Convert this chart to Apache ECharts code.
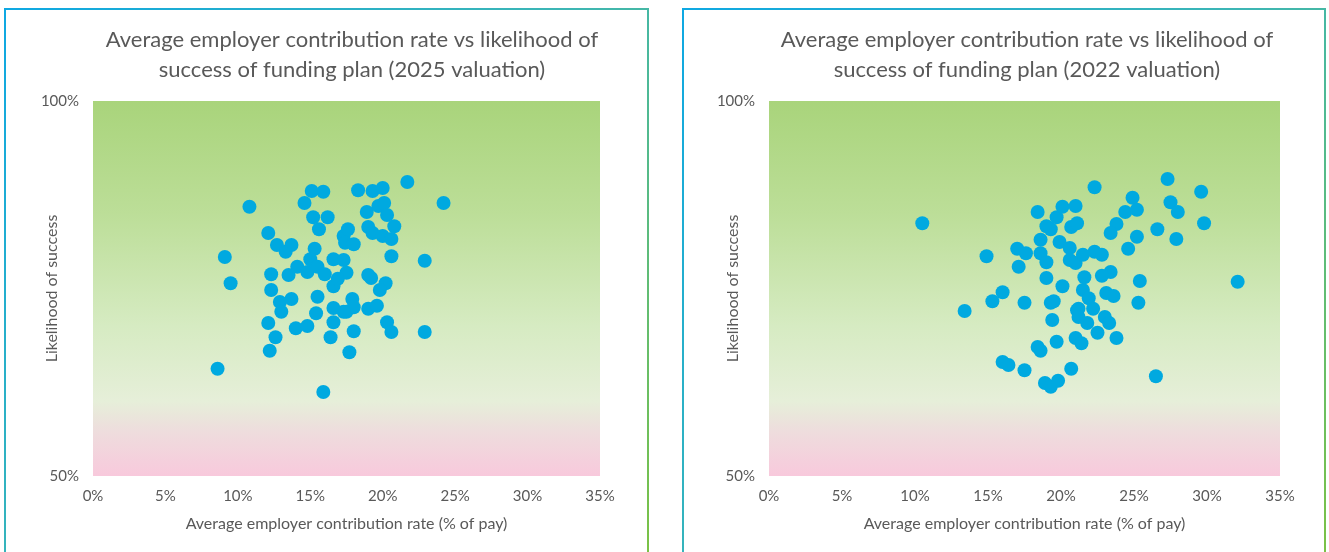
<!DOCTYPE html>
<html>
<head>
<meta charset="utf-8">
<script src="https://cdn.jsdelivr.net/npm/echarts@6/dist/echarts.min.js"></script>
<style>
  html, body { margin: 0; padding: 0; background: #fff; }
  #chart { width: 1329px; height: 552px; }
</style>
</head>
<body>
<div id="chart"></div>
<script>
// 2025 valuation: contribution rate (% of pay) and likelihood of success (%)
var rate2025 = [10.8, 9.1, 9.5, 8.6, 12.1, 12.7, 13.3, 13.7, 12.3, 13.5, 14.1, 14.8, 12.3, 12.9, 13.7, 13.0, 12.1, 12.6, 12.2, 14.0,
  14.8, 15.1, 15.9, 14.6, 15.2, 16.2, 15.6, 15.3, 15.0, 15.5, 16.0, 15.5, 15.4, 16.6, 17.3, 17.5, 17.3, 17.6, 17.4, 18.0,
  18.3, 19.3, 20.0, 21.7, 24.2, 18.9, 19.7, 20.1, 20.3, 19.0, 19.3, 20.0, 20.6, 20.8, 20.6, 22.9, 19.0, 20.2, 19.2, 16.6,
  16.9, 17.9, 17.5, 18.0, 17.3, 18.0, 17.7, 15.9, 16.6, 16.6, 16.4, 19.0, 19.6, 19.8, 20.3, 20.6, 22.9];
var success2025 = [85.9, 79.2, 75.7, 64.3, 82.4, 80.8, 79.9, 80.8, 76.9, 76.8, 77.9, 77.2, 74.8, 73.2, 73.6, 71.9, 70.4, 68.5, 66.7, 69.7,
  70.0, 88.0, 87.9, 86.4, 84.5, 84.5, 82.9, 80.3, 78.9, 77.9, 76.9, 73.9, 71.7, 78.9, 78.8, 77.1, 82.0, 82.9, 81.1, 80.9,
  88.1, 88.0, 88.4, 89.2, 86.4, 85.2, 86.0, 86.4, 84.8, 83.2, 82.4, 82.0, 81.6, 83.3, 79.3, 78.7, 76.8, 75.7, 76.4, 75.3,
  76.3, 73.6, 71.9, 72.5, 71.9, 69.3, 66.5, 61.2, 72.4, 70.5, 68.5, 72.3, 72.7, 74.8, 70.5, 69.2, 69.2];

// 2022 valuation
var rate2022 = [10.5, 14.9, 13.4, 15.3, 16.0, 17.0, 17.6, 17.1, 18.4, 18.6, 18.6, 19.0, 19.0, 19.3, 19.7, 20.1, 21.0, 20.7, 21.1, 19.9,
  20.6, 20.6, 21.0, 19.0, 20.1, 17.5, 19.3, 19.5, 19.4, 21.1, 18.4, 18.6, 19.7, 21.0, 16.0, 16.4, 17.5, 18.9, 19.3, 19.8,
  20.7, 22.3, 27.3, 29.6, 24.9, 25.2, 24.4, 27.5, 28.0, 23.8, 23.4, 25.2, 26.6, 27.9, 29.8, 24.6, 21.5, 22.3, 22.8, 23.4,
  22.8, 25.4, 32.1, 21.6, 21.5, 23.1, 23.6, 25.3, 21.9, 22.2, 21.2, 21.2, 21.8, 23.0, 23.3, 22.5, 23.8, 21.4, 26.5];
var success2022 = [83.7, 79.3, 72.0, 73.3, 74.5, 80.3, 79.7, 77.9, 85.2, 81.5, 79.7, 78.5, 83.3, 82.9, 84.5, 85.9, 86.0, 83.2, 83.7, 81.2,
  80.4, 78.8, 78.4, 76.4, 75.3, 73.1, 73.1, 73.3, 70.8, 72.1, 67.2, 66.7, 67.9, 68.4, 65.2, 64.8, 64.1, 62.4, 61.9, 62.7,
  64.3, 88.5, 89.6, 87.9, 87.1, 85.5, 85.2, 86.5, 85.2, 83.6, 82.4, 81.9, 82.9, 81.6, 83.7, 80.3, 79.5, 79.9, 79.5, 77.2,
  76.7, 76.0, 75.9, 76.5, 74.8, 74.4, 74.0, 73.1, 73.7, 72.3, 72.3, 71.2, 70.4, 71.2, 70.4, 69.1, 68.4, 67.7, 63.3];

var titles = [
  'Average employer contribution rate vs likelihood of\nsuccess of funding plan (2025 valuation)',
  'Average employer contribution rate vs likelihood of\nsuccess of funding plan (2022 valuation)'
];
var xTicks = [0, 5, 10, 15, 20, 25, 30, 35];
var yTicks = [50, 100];

function pairs (xs, ys) {
  return xs.map(function (x, i) { return [x, ys[i]] })
}

var textColor = '#595959'
var font = 'Lato, "Open Sans", sans-serif'

// 绘图区背景：上绿下粉
function plotBg () {
  return new echarts.graphic.LinearGradient(0, 0, 0, 1, [
    { offset: 0, color: '#A9D47B' },
    { offset: 0.3, color: '#BCDE98' },
    { offset: 0.6, color: '#D6EBC2' },
    { offset: 0.8, color: '#E6EFD9' },
    { offset: 0.88, color: '#EEDDDD' },
    { offset: 1, color: '#F8C9DC' }
  ])
}

// 外框：左上蓝 -> 右下绿
function frameStroke () {
  return new echarts.graphic.LinearGradient(0, 0, 1, 1, [
    { offset: 0, color: '#0EA8E3' },
    { offset: 0.5, color: '#3DB6B4' },
    { offset: 1, color: '#7DC242' }
  ])
}

function xAxis (idx) {
  return {
    gridIndex: idx,
    type: 'value',
    min: xTicks[0],
    max: xTicks[xTicks.length - 1],
    interval: 5,
    name: 'Average employer contribution rate (% of pay)',
    nameLocation: 'middle',
    nameGap: 40,
    nameMoveOverlap: false,
    nameTextStyle: { color: textColor, fontSize: 16, fontFamily: font },
    axisLine: { show: false },
    axisTick: { show: false },
    splitLine: { show: false },
    axisLabel: { color: textColor, fontSize: 15, fontFamily: font, margin: 13, formatter: '{value}%' }
  }
}

function yAxis (idx, gap) {
  return {
    gridIndex: idx,
    type: 'value',
    min: yTicks[0],
    max: yTicks[1],
    interval: 50,
    name: 'Likelihood of success',
    nameLocation: 'middle',
    nameGap: gap,
    nameMoveOverlap: false,
    nameTextStyle: { color: textColor, fontSize: 16, fontFamily: font },
    axisLine: { show: false },
    axisTick: { show: false },
    splitLine: { show: false },
    axisLabel: { color: textColor, fontSize: 15, fontFamily: font, margin: 14, formatter: '{value}%' }
  }
}

var chart = echarts.init(document.getElementById('chart'))
chart.setOption({
  animation: false,
  graphic: [
    { type: 'rect', shape: { x: 5, y: 9, width: 643, height: 560 }, style: { fill: 'none', stroke: frameStroke(), lineWidth: 2 }, z: -10 },
    { type: 'rect', shape: { x: 683, y: 9, width: 642, height: 560 }, style: { fill: 'none', stroke: frameStroke(), lineWidth: 2 }, z: -10 }
  ],
  title: [
    { text: titles[0], left: 347, top: 20, textAlign: 'center',
      textStyle: { color: textColor, fontSize: 22, fontWeight: 'normal', fontFamily: font, lineHeight: 30 } },
    { text: titles[1], left: 1022, top: 20, textAlign: 'center',
      textStyle: { color: textColor, fontSize: 22, fontWeight: 'normal', fontFamily: font, lineHeight: 30 } }
  ],
  grid: [
    { left: 93, top: 101, width: 507, height: 375, show: true, borderWidth: 0, backgroundColor: plotBg() },
    { left: 769, top: 101, width: 511, height: 375, show: true, borderWidth: 0, backgroundColor: plotBg() }
  ],
  xAxis: [xAxis(0), xAxis(1)],
  yAxis: [yAxis(0, 33), yAxis(1, 28)],
  series: [
    { type: 'scatter', xAxisIndex: 0, yAxisIndex: 0, symbolSize: 14,
      itemStyle: { color: '#00A9E0', opacity: 1 }, data: pairs(rate2025, success2025) },
    { type: 'scatter', xAxisIndex: 1, yAxisIndex: 1, symbolSize: 14,
      itemStyle: { color: '#00A9E0', opacity: 1 }, data: pairs(rate2022, success2022) }
  ]
})
</script>
</body>
</html>
